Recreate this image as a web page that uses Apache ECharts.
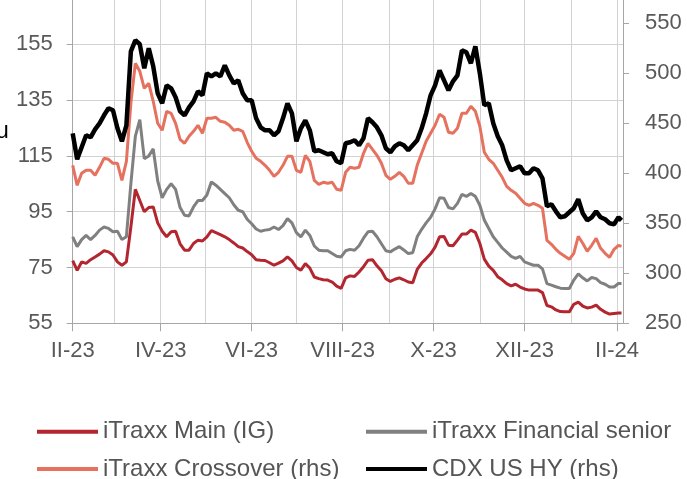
<!DOCTYPE html>
<html>
<head>
<meta charset="utf-8">
<script src="https://cdn.jsdelivr.net/npm/echarts@6/dist/echarts.min.js"></script>
<style>
html,body{margin:0;padding:0;background:#fff;}
#chart{width:687px;height:479px;}
</style>
</head>
<body>
<div id="chart"></div>
<script>
const dates = [
'2023-02-01','2023-02-04','2023-02-07','2023-02-10','2023-02-13','2023-02-16','2023-02-19','2023-02-22','2023-02-25','2023-02-28',
'2023-03-03','2023-03-06','2023-03-09','2023-03-12','2023-03-15','2023-03-18','2023-03-21','2023-03-24','2023-03-27','2023-03-30',
'2023-04-02','2023-04-05','2023-04-08','2023-04-11','2023-04-14','2023-04-17','2023-04-20','2023-04-23','2023-04-26','2023-04-29',
'2023-05-02','2023-05-05','2023-05-08','2023-05-11','2023-05-14','2023-05-17','2023-05-20','2023-05-23','2023-05-26','2023-05-29',
'2023-06-01','2023-06-04','2023-06-07','2023-06-10','2023-06-13','2023-06-16','2023-06-19','2023-06-22','2023-06-25','2023-06-28',
'2023-07-01','2023-07-04','2023-07-07','2023-07-10','2023-07-13','2023-07-16','2023-07-19','2023-07-22','2023-07-25','2023-07-28',
'2023-07-31','2023-08-03','2023-08-06','2023-08-09','2023-08-12','2023-08-15','2023-08-18','2023-08-21','2023-08-24','2023-08-27',
'2023-08-30','2023-09-02','2023-09-05','2023-09-08','2023-09-11','2023-09-14','2023-09-17','2023-09-20','2023-09-23','2023-09-26',
'2023-09-29','2023-10-02','2023-10-05','2023-10-08','2023-10-11','2023-10-14','2023-10-17','2023-10-20','2023-10-23','2023-10-26',
'2023-10-29','2023-11-01','2023-11-04','2023-11-07','2023-11-10','2023-11-13','2023-11-16','2023-11-19','2023-11-22','2023-11-25',
'2023-11-28','2023-12-01','2023-12-04','2023-12-07','2023-12-10','2023-12-13','2023-12-16','2023-12-19','2023-12-22','2023-12-25',
'2023-12-28','2023-12-31','2024-01-03','2024-01-06','2024-01-09','2024-01-12','2024-01-15','2024-01-18','2024-01-21','2024-01-24',
'2024-01-27','2024-01-30','2024-02-02','2024-02-04'
];

const itraxxMain = [
77.5,74,77,76.5,77.8,78.8,79.8,81,80.6,79.5,
77,75.8,77,89.5,103,99,95,96.5,96.7,91,
88,86,87.8,88,83.5,81.2,81.2,83.6,84.8,84.5,
86,88.2,87.5,86.8,86,85,83.8,82.5,82,80.7,
79.6,77.8,77.6,77.5,76.7,75.8,76.6,77.4,78.8,77.4,
75,74,76.4,74.8,71.6,71,70.6,70.5,69.8,68.3,
67.5,71.3,72,71.8,73.4,75.3,77.6,77.8,75.6,73.8,
71,70,70.8,71.3,70.6,69.8,69.5,74.3,76.6,78.2,
79.9,82.3,86,86.1,83,82.8,84.8,87,87,88.4,
87.6,83.6,78,75.5,74,71.7,70.6,69.2,68.4,69,
68,67.3,66.9,66.9,66.9,66,61.4,60.9,59.8,59.2,
59.1,59.1,61.8,62.6,61.2,60.5,60.8,61.5,60,59,
58.3,58.5,58.7,58.7
];

const itraxxFinSenior = [
86,82.5,85,86.5,85,86.5,88.4,89.5,89,87.8,
88,85,86,105,122,128,114,115,117.5,106,
100,103,105,103,96.5,93.7,93.5,96.7,99,99,
101,105.7,104.5,103,101.5,100,97.5,95.5,95,92.3,
90.7,88.8,88,88.4,88.6,89.5,88.6,90,92.5,91,
87.5,86,88.4,86.5,82.7,81.2,81,81,80,79,
78.8,81,81.5,81.2,82.8,85.5,87.8,88,86,83.5,
81,80.6,81.6,82.5,81.3,80,80.3,86,88.7,91,
93,96,100,99.8,96.5,96,98,101.2,100.5,101.5,
100.5,97.3,92,89,86,84,82,80.5,79,78.3,
79,77,76.4,75.8,75.8,74.5,69.2,68.7,68.1,67.6,
67.5,67.5,70.5,72.7,71.3,70.2,71.4,71,69.6,69,
68,68,69.3,69.3
];

const itraxxCrossover = [
408,388,400,403,403,398,406,415,414,410,
410,393,412,470,510,502,485,490,472,450,
443,462,460,450,434,430,437,442,448,440,
455,455,456,452,451,448,443,444,442,431,
422,415,412,408,403,397,401,408,417,417,
403,401,418,412,393,389,391,390,391,384,
383,401,406,405,406,420,430,424,418,410,
398,394,397,401,397,390,390,408,420,432,
440,448,459,456,441,440,445,460,460,467,
462,447,421,414,410,403,396,387,383,380,
375,370,368,370,368,365,333,329,324,320,
317,314,320,337,330,322,328,335,325,320,
316,324,328,327
];

const cdxUsHy = [
440,414,426,438,436,444,450,458,465,463,
445,432,448,522,533,529,505,525,507,480,
470,488,485,476,462,458,466,472,482,478,
500,497,500,497,508,498,490,493,480,473,
473,455,446,443,443,438,442,455,470,460,
432,445,453,443,422,423,421,419,420,412,
410,430,431,433,428,435,455,451,446,438,
425,421,427,430,428,423,428,433,445,460,
478,488,503,493,483,492,498,523,521,510,
527,500,468,470,450,437,428,413,403,405,
407,400,400,405,403,395,367,369,362,356,
357,361,365,374,360,353,356,362,356,354,
350,349,356,353
];

const tickDates = ['2023-02-01','2023-04-01','2023-06-01','2023-08-01','2023-10-01','2023-12-01','2024-02-01'];
const tickLabels = ['II-23','IV-23','VI-23','VIII-23','X-23','XII-23','II-24'];
const seriesNames = ['iTraxx Main (IG)','iTraxx Financial senior','iTraxx Crossover (rhs)','CDX US HY (rhs)'];
const axisStart = '2023-02-01';
const axisEnd = '2024-02-05';

const FONT = '"Liberation Sans", Arial, sans-serif';
const ts = s => echarts.time.parse(s).getTime();
const pair = arr => dates.map((d, i) => [ts(d), arr[i]]);
const tickTs = tickDates.map(ts);

const chart = echarts.init(document.getElementById('chart'), null, {renderer: 'canvas'});
const DAY = 86400000;

const legendBase = {
  orient: 'vertical',
  top: 419.7,
  height: 80,
  padding: 0,
  icon: 'rect',
  itemWidth: 61, itemHeight: 4, itemGap: 13.3, itemTextGap: 3,
  textStyle: {fontFamily: FONT, fontSize: 24, color: '#555555', lineHeight: 24}
};

chart.setOption({
  animation: false,
  backgroundColor: '#ffffff',
  grid: {left: 72.7, right: 64, top: 0, bottom: 155.7, containLabel: false, outerBoundsMode: 'none'},
  xAxis: [
    {
      type: 'time',
      min: ts(axisStart),
      max: ts(axisEnd),
      minInterval: 32 * DAY,
      maxInterval: 32 * DAY,
      position: 'bottom',
      axisLine: {show: true, lineStyle: {color: '#a6a6a6', width: 1}},
      axisTick: {show: false},
      axisLabel: {show: false},
      splitLine: {show: true, lineStyle: {color: '#d2d2d2', width: 1}}
    },
    {
      type: 'value',
      min: ts(axisStart),
      max: ts(axisEnd),
      position: 'bottom',
      gridIndex: 0,
      axisLine: {show: false},
      splitLine: {show: false},
      axisTick: {show: true, customValues: tickTs, length: 8, lineStyle: {color: '#a6a6a6'}},
      axisLabel: {
        show: true,
        customValues: tickTs,
        margin: 17,
        fontFamily: FONT,
        fontSize: 22,
        color: '#595959',
        formatter: function (v) {
          const i = tickTs.indexOf(v);
          return i >= 0 ? tickLabels[i] : '';
        }
      }
    }
  ],
  yAxis: [
    {
      type: 'value',
      position: 'left',
      min: 55, max: 170.88, interval: 20,
      axisLine: {show: true, lineStyle: {color: '#a6a6a6'}},
      axisTick: {show: true, length: 6, lineStyle: {color: '#a6a6a6'}},
      axisLabel: {margin: 20, fontFamily: FONT, fontSize: 22, color: '#595959', showMaxLabel: false},
      splitLine: {show: true, showMaxLine: false, lineStyle: {color: '#d2d2d2', width: 1}}
    },
    {
      type: 'value',
      position: 'right',
      min: 250, max: 573.3, interval: 50,
      axisLine: {show: true, lineStyle: {color: '#a6a6a6'}},
      axisTick: {show: true, length: 6, lineStyle: {color: '#a6a6a6'}},
      axisLabel: {margin: 22, fontFamily: FONT, fontSize: 22, color: '#595959', showMaxLabel: false},
      splitLine: {show: false}
    }
  ],
  legend: [
    Object.assign({}, legendBase, {left: 37, data: [seriesNames[0], seriesNames[2]]}),
    Object.assign({}, legendBase, {left: 366, data: [seriesNames[1], seriesNames[3]]})
  ],
  graphic: [
    {type: 'text', left: -4, top: 120, style: {text: 'u', font: '23px ' + FONT, fill: '#000000'}}
  ],
  series: [
    {name: seriesNames[0], type: 'line', xAxisIndex: 0, yAxisIndex: 0, data: pair(itraxxMain),
     symbol: 'none', showSymbol: false, color: '#b3262f', lineStyle: {width: 3, color: '#b3262f'}},
    {name: seriesNames[1], type: 'line', xAxisIndex: 0, yAxisIndex: 0, data: pair(itraxxFinSenior),
     symbol: 'none', showSymbol: false, color: '#808080', lineStyle: {width: 3, color: '#808080'}},
    {name: seriesNames[2], type: 'line', xAxisIndex: 0, yAxisIndex: 1, data: pair(itraxxCrossover),
     symbol: 'none', showSymbol: false, color: '#e5715e', lineStyle: {width: 3, color: '#e5715e'}},
    {name: seriesNames[3], type: 'line', xAxisIndex: 0, yAxisIndex: 1, data: pair(cdxUsHy),
     symbol: 'none', showSymbol: false, color: '#000000', lineStyle: {width: 4.5, color: '#000000'}}
  ]
});
</script>
</body>
</html>
